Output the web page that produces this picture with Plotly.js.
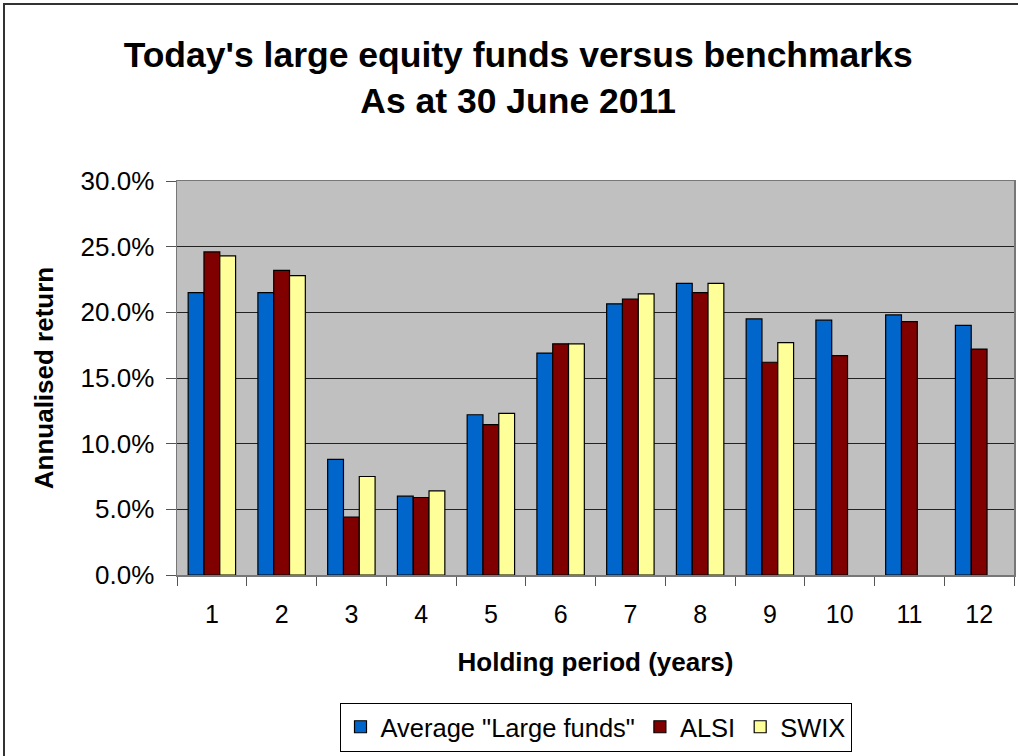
<!DOCTYPE html>
<html>
<head>
<meta charset="utf-8">
<script src="https://cdn.plot.ly/plotly-3.0.1.min.js"></script>
<style>
  html, body { margin: 0; background: #fff; overflow: hidden; }
  #graph { position: absolute; left: 0; top: 0; width: 1018px; height: 756px; }
  #frame { position: absolute; left: 3px; top: 3px; width: 1100px; height: 800px;
           border: 1px solid #333; border-width: 2px 0 0 2px; pointer-events: none; }
</style>
</head>
<body>
<div id="graph"></div>
<div id="frame"></div>
<script>
// holding period in years
var periods = ["1", "2", "3", "4", "5", "6", "7", "8", "9", "10", "11", "12"];

// annualised returns, %
var largeFunds = [21.5, 21.5, 8.8, 6.0, 12.2, 16.9, 20.65, 22.2, 19.5, 19.4, 19.8, 19.0];
var alsi       = [24.6, 23.2, 4.4, 5.9, 11.45, 17.6, 21.0, 21.5, 16.2, 16.7, 19.3, 17.2];
var swix       = [24.3, 22.8, 7.5, 6.4, 12.3, 17.6, 21.4, 22.2, 17.7, null, null, null];

var seriesNames = ['Average "Large funds"', "ALSI", "SWIX"];
var seriesColors = ["#0066CC", "#800000", "#FFFF99"];

var traces = [largeFunds, alsi, swix].map(function (vals, i) {
  return {
    type: "bar",
    name: seriesNames[i],
    x: periods,
    y: vals,
    marker: { color: seriesColors[i], line: { color: "#000", width: 1.2 } },
    hoverinfo: "x+y"
  };
});

var layout = {
  width: 1018,
  height: 756,
  margin: { l: 177, r: 4, t: 181, b: 177 },
  paper_bgcolor: "rgba(0,0,0,0)",
  plot_bgcolor: "#C0C0C0",
  font: { family: "Liberation Sans, Arial, sans-serif", color: "#000", size: 25 },
  title: {
    text: "<b>Today's large equity funds versus benchmarks<br>As at 30 June 2011</b>",
    font: { size: 35.5 },
    x: 0.509,
    xref: "container",
    xanchor: "center",
    y: 0.912,
    yref: "container",
    yanchor: "middle"
  },
  barmode: "group",
  bargap: 0.32,
  bargroupgap: 0,
  xaxis: {
    type: "category",
    tickson: "boundaries",
    ticks: "outside",
    ticklen: 9,
    tickcolor: "#555",
    ticklabelstandoff: 16,
    showline: true,
    mirror: true,
    linecolor: "#777",
    linewidth: 1.5,
    showgrid: false,
    tickfont: { size: 25 },
    title: { text: "<b>Holding period (years)</b>", font: { size: 26 }, standoff: 26 }
  },
  yaxis: {
    range: [0, 30],
    dtick: 5,
    tickformat: ".1f",
    ticksuffix: "%",
    ticks: "outside",
    ticklen: 10,
    tickcolor: "#555",
    ticklabelstandoff: 6,
    showline: true,
    mirror: true,
    linecolor: "#777",
    linewidth: 1.5,
    showgrid: true,
    gridcolor: "#222",
    gridwidth: 1,
    zeroline: false,
    tickfont: { size: 26 },
    title: { text: "<b>Annualised return</b>", font: { size: 26 }, standoff: 19 }
  },
  legend: {
    orientation: "h",
    x: 0.5,
    xanchor: "center",
    y: -0.324,
    yanchor: "top",
    bordercolor: "#000",
    borderwidth: 1,
    bgcolor: "#fff",
    font: { size: 25.5 },
    itemwidth: 30
  },
  showlegend: true
};

Plotly.newPlot("graph", traces, layout, { displayModeBar: false, staticPlot: true });
</script>
</body>
</html>
